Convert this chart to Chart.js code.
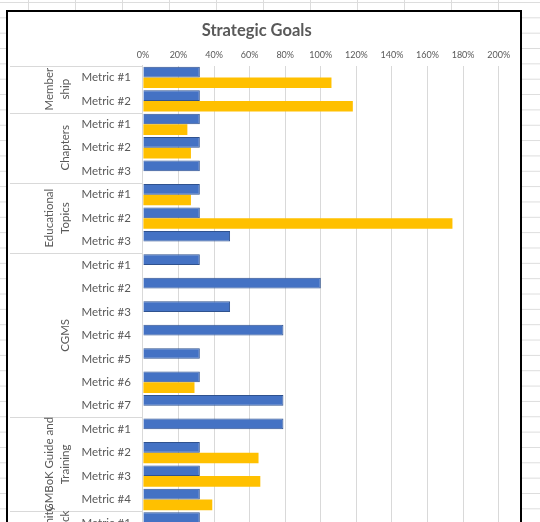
<!DOCTYPE html>
<html>
<head>
<meta charset="utf-8">
<title>Strategic Goals</title>
<script src="https://cdn.jsdelivr.net/npm/chart.js@4.4.0/dist/chart.umd.min.js"></script>
<style>
  html, body { margin: 0; padding: 0; width: 540px; height: 522px; overflow: hidden; }
  body {
    position: relative;
    background-color: #fff;
    background-image:
      linear-gradient(to right, #dcdcdc 1px, transparent 1px),
      linear-gradient(to bottom, #dcdcdc 1px, transparent 1px);
    background-size: 47px 100%, 100% 15.35px;
    background-position: 28px 0, 0 2px;
  }
  #box {
    position: absolute; left: 6px; top: 10px;
    width: 512px; height: 570px;
    border: 2px solid #000; background: #fff;
  }
</style>
</head>
<body>
<div id="box"><canvas id="goalsChart"></canvas></div>
<script>
// group labels (already wrapped the way Excel wraps them) and how many metrics each has
// the last group runs off the bottom of the screenshot
const groupNames = [['Member', 'ship'], ['Chapters'], ['Educational', 'Topics'], ['CGMS'], ['GMBoK Guide and', 'Training'], ['Community', 'Feedback']];
const groupSizes = [2, 3, 3, 7, 4, 2];

const metricLabels = [
    'Metric #1', 'Metric #2',
    'Metric #1', 'Metric #2', 'Metric #3',
    'Metric #1', 'Metric #2', 'Metric #3',
    'Metric #1', 'Metric #2', 'Metric #3', 'Metric #4', 'Metric #5', 'Metric #6', 'Metric #7',
    'Metric #1', 'Metric #2', 'Metric #3', 'Metric #4',
    'Metric #1', 'Metric #2'
];

const targetValues = [
    0.32, 0.32,
    0.32, 0.32, 0.32,
    0.32, 0.32, 0.49,
    0.32, 1.00, 0.49, 0.79, 0.32, 0.32, 0.79,
    0.79, 0.32, 0.32, 0.32,
    0.32, null
];

const actualValues = [
    1.06, 1.18,
    0.25, 0.27, null,
    0.27, 1.74, null,
    null, null, null, null, null, 0.29, null,
    null, 0.65, 0.66, 0.39,
    null, null
];

const textColor = '#595959';
const lineColor = '#d9d9d9';

// draws the outer (group) level of the category axis
const groupAxis = {
    id: 'groupAxis',
    afterDraw(chart) {
        const ctx = chart.ctx;
        const y = chart.scales.y;
        const row = (y.bottom - y.top) / metricLabels.length;
        ctx.save();
        ctx.strokeStyle = lineColor;
        ctx.lineWidth = 1;
        ctx.fillStyle = textColor;
        ctx.font = '11.5px Lato';
        ctx.textAlign = 'center';
        ctx.textBaseline = 'middle';

        let start = 0;
        groupSizes.forEach((n, g) => {
            const top = y.getPixelForValue(start) - row / 2;
            const bottom = top + n * row;
            [top, bottom].forEach(p => {
                const py = Math.round(p) + 0.5;
                ctx.beginPath();
                ctx.moveTo(2, py);
                ctx.lineTo(y.right, py);
                ctx.stroke();
            });
            const lines = groupNames[g];
            const cy = (top + bottom) / 2;
            lines.forEach((t, i) => {
                const cx = 57 - (lines.length - 1 - i) * 16;
                ctx.save();
                ctx.translate(cx, cy);
                ctx.rotate(-Math.PI / 2);
                ctx.fillText(t, 0, 0);
                ctx.restore();
            });
            start += n;
        });
        ctx.restore();
    }
};

const ctx = document.getElementById('goalsChart');
new Chart(ctx, {
    type: 'bar',
    data: {
        labels: metricLabels,
        datasets: [{
            label: 'Target',
            data: targetValues,
            backgroundColor: '#4472C4',
            borderColor: '#2F528F',
            borderWidth: 1,
            categoryPercentage: 0.91,
            barPercentage: 1
        }, {
            label: 'Actual',
            data: actualValues,
            backgroundColor: '#FFC000',
            borderColor: '#FFC000',
            borderWidth: 0,
            categoryPercentage: 0.91,
            barPercentage: 1
        }]
    },
    options: {
        indexAxis: 'y',
        responsive: true,
        maintainAspectRatio: false,
        animation: false,
        layout: { padding: { left: 6.7, right: 21.3, top: 0, bottom: 23.85 } },
        plugins: {
            legend: { display: false },
            tooltip: { enabled: false },
            title: {
                display: true,
                text: 'Strategic Goals',
                color: textColor,
                font: { family: 'Lato', size: 16.5, weight: 'bold' },
                padding: { top: 8.6, bottom: 0 }
            }
        },
        scales: {
            x: {
                position: 'top',
                min: 0,
                max: 2,
                ticks: {
                    stepSize: 0.2,
                    callback: v => Math.round(v * 100) + '%',
                    color: textColor,
                    font: { family: 'Lato', size: 9 },
                    padding: 5.5,
                    maxRotation: 0,
                    autoSkip: false
                },
                grid: { color: lineColor, drawTicks: false },
                border: { display: false },
                afterFit(scale) { scale.height = 25.3; }
            },
            y: {
                ticks: {
                    color: textColor,
                    font: { family: 'Lato', size: 11.5 },
                    padding: 12,
                    autoSkip: false
                },
                grid: { display: false, drawTicks: false },
                border: { display: true, color: lineColor },
                afterFit(scale) { scale.width = 128.2; }
            }
        }
    },
    plugins: [groupAxis]
});
</script>
</body>
</html>
